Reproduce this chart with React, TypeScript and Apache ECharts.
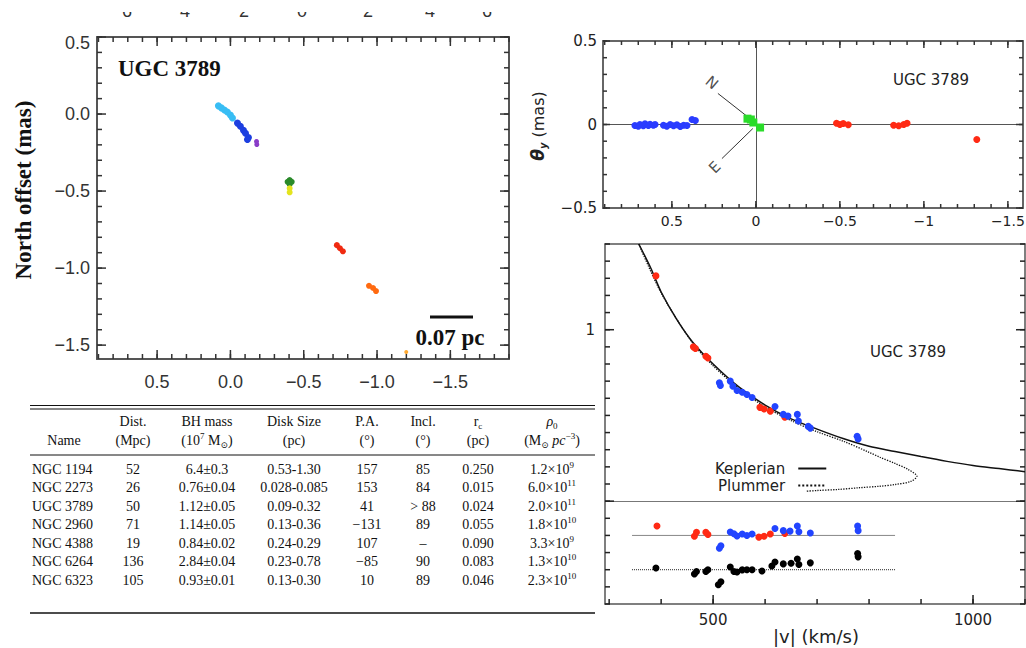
import React, { useEffect, useRef } from 'react';
import * as echarts from 'echarts';

// ---------- Panel A: sky-plane maser positions (East offset, North offset), mas ----------
const mapCyan = [[0.082, 0.053], [0.062, 0.040], [0.041, 0.026], [0.021, 0.013], [0.0, -0.007], [-0.014, -0.026]];
const mapBlue = [[-0.048, -0.059], [-0.068, -0.079], [-0.089, -0.106], [-0.103, -0.125], [-0.123, -0.152], [-0.116, -0.165]];
const mapPurple = [[-0.178, -0.178], [-0.18, -0.198]];
const mapGreen = [[-0.404, -0.429], [-0.39, -0.44], [-0.418, -0.44], [-0.404, -0.455]];
const mapYellow = [[-0.404, -0.482], [-0.404, -0.508]];
const mapRed = [[-0.726, -0.851], [-0.747, -0.871], [-0.767, -0.891]];
const mapOrange = [[-0.945, -1.115], [-0.973, -1.129], [-0.993, -1.149]];
const mapLightOrange = [[-1.199, -1.545]];
const aTickLabels = [0.5, 0, -0.5, -1, -1.5];
const aTopCutLabels = ['6', '4', '2', '0', '2', '4', '6'];

// ---------- Panel B: rotated positions (theta_x, theta_y), mas ----------
const rotBlue = [[0.72, -0.006], [0.70, -0.01], [0.69, 0.0], [0.67, -0.008], [0.66, 0.004], [0.64, -0.006], [0.63, 0.002], [0.61, -0.004], [0.60, 0.0], [0.55, -0.004], [0.53, -0.01], [0.51, 0.0], [0.49, -0.008], [0.47, -0.002], [0.45, -0.012], [0.43, -0.004], [0.41, -0.006], [0.38, 0.03], [0.36, 0.024]];
const rotGreen = [[0.05, 0.035], [0.03, 0.03], [0.015, 0.012], [-0.025, -0.018]];
const rotRed = [[-0.48, 0.008], [-0.50, 0.0], [-0.52, 0.006], [-0.55, -0.002], [-0.82, -0.004], [-0.85, -0.008], [-0.88, 0.0], [-0.90, 0.008], [-1.315, -0.09]];
const compassN = [[0.036, 0.036], [0.226, 0.186]];
const compassE = [[0.018, -0.024], [0.202, -0.204]];
const compassNLabel = [0.262, 0.25];
const compassELabel = [0.244, -0.257];
const bXLabels = [0.5, 0, -0.5, -1, -1.5];
const bYLabels = [0.5, 0, -0.5];

// ---------- Panel C: |v| (km/s) vs impact parameter (mas) ----------
const keplerian = [[357, 1.5], [380, 1.36], [400, 1.22], [430, 1.06], [460, 0.93], [500, 0.8], [550, 0.665], [600, 0.56], [650, 0.48], [700, 0.42], [750, 0.365], [800, 0.32], [850, 0.29], [900, 0.26], [950, 0.232], [1000, 0.208], [1050, 0.19], [1100, 0.172]];
const plummer = [[357, 1.5], [400, 1.215], [460, 0.925], [500, 0.79], [550, 0.655], [600, 0.55], [650, 0.47], [700, 0.405], [750, 0.35], [800, 0.285], [821, 0.256], [850, 0.22], [875, 0.185], [892, 0.145], [880, 0.115], [850, 0.097], [821, 0.087], [780, 0.078], [740, 0.068], [700, 0.062], [680, 0.058]];
const vRed = [[390, 1.314], [462, 0.9], [466, 0.89], [486, 0.845], [490, 0.835], [590, 0.547], [598, 0.538], [610, 0.525], [638, 0.49]];
const vBlue = [[512, 0.69], [514, 0.675], [533, 0.7], [538, 0.67], [546, 0.645], [556, 0.635], [565, 0.622], [575, 0.605], [619, 0.552], [635, 0.506], [644, 0.496], [662, 0.506], [664, 0.468], [683, 0.436], [687, 0.426], [777, 0.378], [779, 0.362]];
const resRed = [[392, -0.145], [464, -0.205], [468, -0.182], [486, -0.182], [490, -0.195], [588, -0.21], [598, -0.205], [610, -0.192], [638, -0.188]];
const resBlue = [[512, -0.275], [515, -0.26], [533, -0.18], [540, -0.19], [546, -0.203], [556, -0.192], [565, -0.2], [575, -0.192], [619, -0.16], [635, -0.172], [648, -0.175], [662, -0.145], [665, -0.178], [687, -0.186], [778, -0.145], [779, -0.172]];
const resBlack = [[390, -0.39], [464, -0.425], [468, -0.41], [486, -0.41], [490, -0.4], [510, -0.488], [515, -0.47], [533, -0.384], [540, -0.41], [546, -0.413], [556, -0.401], [565, -0.4], [575, -0.4], [594, -0.407], [613, -0.378], [619, -0.355], [635, -0.366], [650, -0.362], [662, -0.337], [665, -0.37], [687, -0.36], [778, -0.305], [779, -0.325]];
const refSolid = [[344, -0.2], [850, -0.2]];
const refDotted = [[344, -0.4], [850, -0.4]];
const cXLabels = [500, 1000];
const cYLabels = [1];
const cYMajorTicks = [0, 1];

// ---------- Table ----------
const tableNames = ['NGC 1194', 'NGC 2273', 'UGC 3789', 'NGC 2960', 'NGC 4388', 'NGC 6264', 'NGC 6323'];
const tableDist = ['52', '26', '50', '71', '19', '136', '105'];
const tableBHMass = ['6.4±0.3', '0.76±0.04', '1.12±0.05', '1.14±0.05', '0.84±0.02', '2.84±0.04', '0.93±0.01'];
const tableDisk = ['0.53-1.30', '0.028-0.085', '0.09-0.32', '0.13-0.36', '0.24-0.29', '0.23-0.78', '0.13-0.30'];
const tablePA = ['157', '153', '41', '−131', '107', '−85', '10'];
const tableIncl = ['85', '84', '> 88', '89', '–', '90', '89'];
const tableRc = ['0.250', '0.015', '0.024', '0.055', '0.090', '0.083', '0.046'];
const tableRhoMant = ['1.2', '6.0', '2.0', '1.8', '3.3', '1.3', '2.3'];
const tableRhoExp = ['9', '11', '11', '10', '9', '10', '10'];
const tableHead1 = ['', 'Dist.', 'BH mass', 'Disk Size', 'P.A.', 'Incl.', '{n|r}{sub|c}', '{it|ρ}{sub|0}'];
const tableHead2 = ['Name', '(Mpc)', '(10{sup|7} M{sub|⊙})', '(pc)', '(°)', '(°)', '(pc)', '(M{sub|⊙} {it|pc}{sup|−3})'];

const SERIF = '"Liberation Serif", "DejaVu Serif", serif';
const SANS = '"Liberation Sans", Arial, sans-serif';
const HERSHEY = '"DejaVu Sans", sans-serif';

function steps(a: number, b: number, s: number): number[] {
  const out: number[] = [];
  const n = Math.round((b - a) / s);
  for (let i = 0; i <= n; i++) out.push(+(a + i * s).toFixed(6));
  return out;
}

// two axes per dimension per grid: main (labels + frame side) and opposite (frame side only)
function makeAxes(dim: 'x' | 'y', o: any) {
  const pos = dim === 'x' ? ['bottom', 'top'] : ['left', 'right'];
  const base = {
    type: 'value', gridIndex: o.grid, min: o.min, max: o.max, inverse: !!o.inverse,
    splitLine: { show: false }, splitArea: { show: false }, minorTick: { show: false },
    axisTick: { show: false }, axisPointer: { show: false }, silent: true,
  };
  const frameLine = { show: true, onZero: false, lineStyle: { color: o.frameColor, width: o.frameWidth } };
  return [
    { ...base, position: pos[0], axisLine: frameLine,
      axisLabel: { show: true, customValues: o.labels, formatter: o.fmt, ...o.label } },
    { ...base, position: pos[1], axisLine: frameLine, axisLabel: { show: false } },
  ];
}

// inward tick marks drawn through the axes' own scales (custom series, api.coord)
function tickSeries(dim: 'x' | 'y', grid: number, majors: number[], minors: number[], majorLen: number, minorLen: number, mirror: boolean, color: string) {
  const data = [...minors.map((v) => [v, 0]), ...majors.map((v) => [v, 1])];
  return {
    type: 'custom', coordinateSystem: 'cartesian2d', xAxisIndex: grid * 2, yAxisIndex: grid * 2,
    data, silent: true, clip: false, z: 20, encode: { x: 0, y: 1 },
    renderItem: (params: any, api: any) => {
      const cs = params.coordSys;
      const v = api.value(0);
      const len = api.value(1) === 1 ? majorLen : minorLen;
      const style = { stroke: color, lineWidth: 1.5, fill: null };
      const children: any[] = [];
      if (dim === 'x') {
        const x = api.coord([v, 0])[0];
        const yb = cs.y + cs.height;
        children.push({ type: 'line', shape: { x1: x, y1: yb, x2: x, y2: yb - len }, style });
        if (mirror) children.push({ type: 'line', shape: { x1: x, y1: cs.y, x2: x, y2: cs.y + len }, style });
      } else {
        const y = api.coord([0, v])[1];
        children.push({ type: 'line', shape: { x1: cs.x, y1: y, x2: cs.x + len, y2: y }, style });
        if (mirror) {
          const xr = cs.x + cs.width;
          children.push({ type: 'line', shape: { x1: xr, y1: y, x2: xr - len, y2: y }, style });
        }
      }
      return { type: 'group', children };
    },
  };
}

const fmtA = (v: number) => {
  const s = (v < 0 ? '−' : '') + Math.abs(v).toFixed(1);
  return v === 0.5 ? '{d|' + s + '}' : s;
};
const fmtAx = (v: number) => (v < 0 ? '−' : '') + Math.abs(v).toFixed(1);
const fmtB = (v: number) => (v < 0 ? '−' : '') + String(Math.abs(v));
const fmtC = (v: number) => String(v);

function buildOption(): any {
  const aLab = { margin: 14, color: '#333', fontSize: 18, fontFamily: SANS };
  const bLab = { color: '#222', fontSize: 14, fontFamily: HERSHEY };
  const xAxis = [
    ...makeAxes('x', { grid: 0, min: -1.9, max: 0.91, inverse: true, labels: aTickLabels, fmt: fmtAx, frameColor: '#555', frameWidth: 2, label: aLab }),
    ...makeAxes('x', { grid: 1, min: -1.59, max: 0.91, inverse: true, labels: bXLabels, fmt: fmtB, frameColor: '#666', frameWidth: 2, label: { ...bLab, margin: 6 } }),
    ...makeAxes('x', { grid: 2, min: 292, max: 1100, labels: cXLabels, fmt: fmtC, frameColor: '#555', frameWidth: 1.5, label: { ...bLab, fontSize: 15, margin: 8 } }),
  ];
  const yAxis = [
    ...makeAxes('y', { grid: 0, min: -1.59, max: 0.5, labels: aTickLabels, fmt: fmtA, frameColor: '#555', frameWidth: 2,
      label: { ...aLab, margin: 7, rich: { d: { fontSize: 18, fontFamily: SANS, color: '#333', padding: [11, 0, 0, 0] } } } }),
    ...makeAxes('y', { grid: 1, min: -0.5, max: 0.5, labels: bYLabels, fmt: fmtB, frameColor: '#666', frameWidth: 2, label: { ...bLab, fontSize: 15, margin: 6 } }),
    ...makeAxes('y', { grid: 2, min: -0.6, max: 1.5, labels: cYLabels, fmt: fmtC, frameColor: '#555', frameWidth: 1.5, label: { ...bLab, fontSize: 15, margin: 10 } }),
  ];

  const sc = (data: number[][], color: string, grid: number, size = 6, symbol = 'circle', extra: any = {}) => ({
    type: 'scatter', xAxisIndex: grid * 2, yAxisIndex: grid * 2, data, symbol, symbolSize: size,
    itemStyle: { color, opacity: 1 }, silent: true, z: 5, ...extra,
  });
  const ln = (name: string, data: number[][], color: string, width: number, type: string, grid: number, extra: any = {}) => ({
    type: 'line', name, xAxisIndex: grid * 2, yAxisIndex: grid * 2, data, symbol: 'none', showSymbol: false,
    lineStyle: { color, width, type }, itemStyle: { color }, silent: true, ...extra,
  });

  const series: any[] = [
    tickSeries('x', 0, aTickLabels, steps(-1.9, 0.9, 0.1), 9, 5, true, '#333'),
    tickSeries('y', 0, aTickLabels, steps(-1.5, 0.5, 0.1), 9, 5, true, '#333'),
    tickSeries('x', 1, bXLabels, steps(-1.5, 0.9, 0.1), 7, 4, true, '#333'),
    tickSeries('y', 1, bYLabels, steps(-0.5, 0.5, 0.1), 7, 4, true, '#333'),
    tickSeries('x', 2, cXLabels, steps(300, 1100, 100), 9, 5, false, '#222'),
    tickSeries('y', 2, cYMajorTicks, steps(-0.6, 1.5, 0.1), 9, 5, true, '#222'),

    sc(mapCyan, '#38bdf4', 0, 7),
    sc(mapBlue, '#1c3fe0', 0, 7),
    sc(mapPurple, '#8a3cc8', 0, 5),
    sc(mapGreen, '#2a8a2a', 0, 6),
    sc(mapYellow, '#e4e41e', 0, 6),
    sc(mapRed, '#f02a10', 0, 6),
    sc(mapOrange, '#ff6a10', 0, 6),
    sc(mapLightOrange, '#ffaa33', 0, 4),

    sc(rotBlue, '#2a3cff', 1, 7, 'circle', {
      markLine: { silent: true, symbol: 'none', label: { show: false }, lineStyle: { color: '#555', width: 1, type: 'solid' }, data: [{ xAxis: 0 }, { yAxis: 0 }] },
    }),
    sc(rotGreen, '#2adc2a', 1, 8, 'rect'),
    sc(rotRed, '#ff2a14', 1, 7),
    ln('', compassN, '#333', 1, 'solid', 1),
    ln('', compassE, '#333', 1, 'solid', 1),
    {
      type: 'scatter', xAxisIndex: 2, yAxisIndex: 2, symbolSize: 1, itemStyle: { color: 'rgba(0,0,0,0)' }, silent: true,
      data: [
        { name: 'N', value: compassNLabel, label: { rotate: -40 } },
        { name: 'E', value: compassELabel, label: { rotate: 45 } },
      ],
      label: { show: true, position: 'inside', formatter: '{b}', fontFamily: HERSHEY, fontSize: 15, color: '#222' },
    },

    ln('Keplerian', keplerian, '#111', 1.5, 'solid', 2, { smooth: 0.3 }),
    ln('Plummer', plummer, '#111', 1.3, 'dotted', 2, { smooth: 0.3 }),
    ln('', refSolid, '#888', 1, 'solid', 2, {
      markLine: { silent: true, symbol: 'none', label: { show: false }, lineStyle: { color: '#777', width: 1, type: 'solid' }, data: [{ yAxis: 0 }] },
    }),
    ln('', refDotted, '#222', 1, 'dotted', 2),
    sc(vRed, '#ff2a14', 2, 7),
    sc(vBlue, '#2244ff', 2, 7),
    sc(resRed, '#ff2a14', 2, 7),
    sc(resBlue, '#2244ff', 2, 7),
    sc(resBlack, '#000', 2, 7),
  ];

  const txt = (x: number, y: number, text: string, style: any, extra: any = {}) => ({
    type: 'text', x, y, silent: true, z: 50,
    style: { text, fill: '#111', align: 'center', verticalAlign: 'middle', ...style }, ...extra,
  });
  const hline = (x1: number, x2: number, y: number, w: number, color = '#111') => ({
    type: 'line', silent: true, z: 50, shape: { x1, y1: y, x2, y2: y }, style: { stroke: color, lineWidth: w },
  });

  const richT = {
    sup: { fontSize: 9, fontFamily: SERIF, verticalAlign: 'top', fill: '#111' },
    sub: { fontSize: 9, fontFamily: SERIF, verticalAlign: 'bottom', fill: '#111' },
    it: { fontSize: 14, fontFamily: SERIF, fontStyle: 'italic', lineHeight: 18, fill: '#111' },
    n: { fontSize: 14, fontFamily: SERIF, lineHeight: 18, fill: '#111' },
  };
  const tStyle = { fontSize: 14, fontFamily: SERIF, lineHeight: 18, rich: richT };
  const colX = [64, 133, 207, 294, 367, 423, 478, 552];
  const rowY = [469, 487.5, 506, 524.5, 543, 561.5, 580];

  const graphic: any[] = [];
  // Panel A annotations
  graphic.push(txt(118, 68, 'UGC 3789', { fontFamily: SERIF, fontWeight: 'bold', fontSize: 23, align: 'left' }));
  graphic.push(txt(450, 337, '0.07 pc', { fontFamily: SERIF, fontWeight: 'bold', fontSize: 23 }));
  graphic.push({ type: 'line', silent: true, z: 50, shape: { x1: 430, y1: 317, x2: 473, y2: 317 }, style: { stroke: '#111', lineWidth: 3 } });
  graphic.push(txt(23, 190, 'North offset (mas)', { fontFamily: SERIF, fontWeight: 'bold', fontSize: 23 }, { rotation: Math.PI / 2 }));
  // tick labels of a panel above, cut by the top edge of the image
  const cutX = [127, 185, 244, 302, 368, 430, 487];
  aTopCutLabels.forEach((t, i) => graphic.push(txt(cutX[i], 11, t, { fontFamily: SANS, fontSize: 18, fill: '#333' }, { z: 40, z2: 1 })));
  graphic.push({ type: 'rect', silent: true, z: 60, z2: 10, shape: { x: 100, y: 0, width: 420, height: 12 }, style: { fill: '#fff' } });

  // Panel B annotations
  graphic.push(txt(931, 80, 'UGC 3789', { fontFamily: HERSHEY, fontSize: 15, fill: '#222' }));
  graphic.push(txt(538, 126, '{t|θ}{s|y}{m| (mas)}', {
    fontFamily: HERSHEY, fontSize: 16, lineHeight: 20,
    rich: {
      t: { fontFamily: HERSHEY, fontSize: 17, fontWeight: 'bold', fontStyle: 'italic', lineHeight: 20, fill: '#222' },
      s: { fontFamily: HERSHEY, fontSize: 10, fontWeight: 'bold', fontStyle: 'italic', verticalAlign: 'bottom', fill: '#222' },
      m: { fontFamily: HERSHEY, fontSize: 16, lineHeight: 20, fill: '#222' },
    },
  }, { rotation: Math.PI / 2 }));

  // Panel C annotations
  graphic.push(txt(908, 352, 'UGC 3789', { fontFamily: HERSHEY, fontSize: 15, fill: '#222' }));
  graphic.push(txt(816, 636, '|v| (km/s)', { fontFamily: HERSHEY, fontSize: 18, fill: '#222' }));

  // Table
  graphic.push(hline(30, 595, 405.5, 1.2));
  graphic.push(hline(30, 595, 409, 1.2));
  graphic.push(hline(30, 595, 455, 1));
  graphic.push(hline(30, 595, 613, 1.5));
  tableHead1.forEach((t, i) => { if (t) graphic.push(txt(colX[i], 421, t, tStyle)); });
  tableHead2.forEach((t, i) => graphic.push(txt(colX[i], 440, t, tStyle)));
  rowY.forEach((y, r) => {
    graphic.push(txt(32, y, tableNames[r], { ...tStyle, align: 'left' }));
    graphic.push(txt(colX[1], y, tableDist[r], tStyle));
    graphic.push(txt(colX[2], y, tableBHMass[r], tStyle));
    graphic.push(txt(colX[3], y, tableDisk[r], tStyle));
    graphic.push(txt(colX[4], y, tablePA[r], tStyle));
    graphic.push(txt(colX[5], y, tableIncl[r], tStyle));
    graphic.push(txt(colX[6], y, tableRc[r], tStyle));
    graphic.push(txt(colX[7], y, tableRhoMant[r] + '×10{sup|' + tableRhoExp[r] + '}', tStyle));
  });

  return {
    animation: false,
    backgroundColor: '#fff',
    grid: [
      { left: 97, top: 37, width: 412, height: 322, outerBoundsMode: 'none', containLabel: false },
      { left: 603, top: 41, width: 420, height: 167, outerBoundsMode: 'none', containLabel: false },
      { left: 605, top: 244, width: 420, height: 360, outerBoundsMode: 'none', containLabel: false },
    ],
    legend: {
      data: ['Keplerian', 'Plummer'], orient: 'vertical', left: 710, top: 456, align: 'right',
      itemWidth: 28, itemHeight: 10, itemGap: 2, selectedMode: false,
      itemStyle: { opacity: 0 },
      textStyle: { fontFamily: HERSHEY, fontSize: 15, color: '#222', lineHeight: 15, padding: [0, 8, 0, 0] },
    },
    xAxis, yAxis, series, graphic,
  };
}

export default function App() {
  const ref = useRef<HTMLDivElement>(null);
  useEffect(() => {
    if (!ref.current) return;
    const chart = echarts.init(ref.current, undefined, { renderer: 'svg' });
    chart.setOption(buildOption());
    return () => chart.dispose();
  }, []);
  return <div ref={ref} style={{ position: 'absolute', left: 0, top: 0, width: 1026, height: 648, background: '#fff' }} />;
}
